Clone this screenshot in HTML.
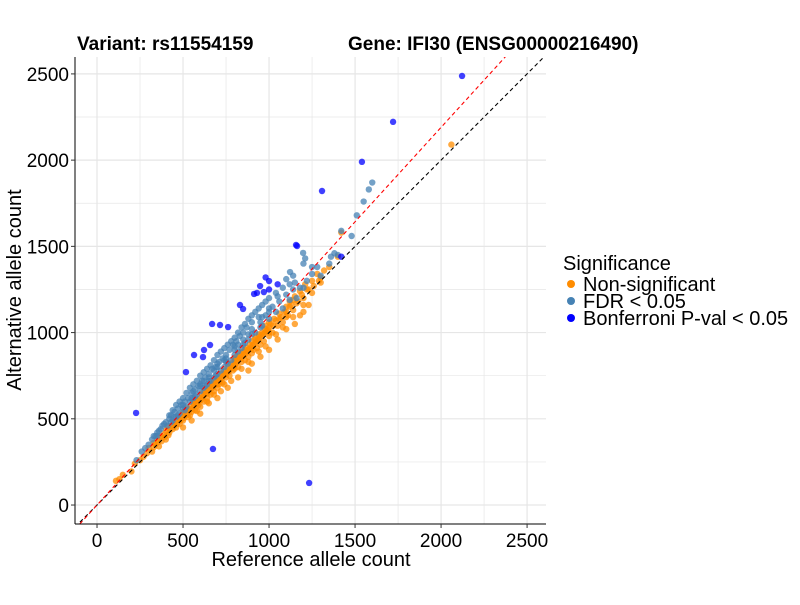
<!DOCTYPE html>
<html><head><meta charset="utf-8"><style>
body{margin:0;background:#fff;font-family:"Liberation Sans",sans-serif}
svg text{font-family:"Liberation Sans",sans-serif}
</style></head><body>
<svg id="c" width="800" height="600"></svg>
<script>
const xTicks=[0,500,1000,1500,2000,2500];
const yTicks=[0,500,1000,1500,2000,2500];
const nonSig=[[110,140],[130,150],[150,175],[200,195],[220,240],[250,260],[270,280],[290,300],[300,330],[320,310],[330,360],[340,350],[350,380],[360,340],[370,400],[380,390],[390,410],[400,380],[400,430],[410,450],[420,420],[430,460],[440,440],[450,480],[460,450],[470,500],[480,470],[490,520],[500,490],[500,540],[510,520],[520,560],[530,510],[540,570],[550,540],[560,590],[570,550],[580,610],[590,580],[600,620],[600,570],[610,640],[620,600],[630,660],[640,620],[650,690],[660,640],[670,700],[680,660],[690,720],[700,680],[700,740],[710,700],[720,760],[730,710],[740,780],[750,740],[760,800],[770,750],[780,820],[790,780],[800,840],[800,790],[810,860],[820,800],[830,880],[840,830],[850,890],[860,840],[870,910],[880,860],[890,930],[900,880],[900,950],[910,900],[920,970],[930,910],[940,990],[950,930],[960,1000],[970,950],[980,1040],[1000,980],[1000,1060],[1020,1000],[1030,1080],[1050,1040],[1060,1110],[1080,1060],[1100,1150],[1110,1100],[1120,1180],[1140,1130],[1150,1210],[1170,1180],[1180,1240],[1200,1200],[1210,1280],[1230,1250],[1250,1300],[1280,1340],[1300,1290],[1320,1360],[1400,1440],[1420,1580],[2060,2090],[650,590],[700,620],[760,680],[820,740],[880,780],[950,860],[1000,900],[1050,960],[1150,1050],[1230,1160],[600,530],[550,490],[500,450],[720,660],[900,820],[1100,1020],[1200,1120],[1180,1100],[560,600],[620,660],[680,720],[740,760],[800,850],[860,900],[920,960],[980,1020],[660,700],[720,740],[780,800],[840,870],[700,720],[760,770],[820,850],[880,900],[940,960],[1000,1030],[1060,1080],[1120,1150],[450,470],[480,500],[530,550],[580,590],[640,660],[1140,1190],[1100,1120],[1250,1230],[1300,1320],[1350,1380],
[330,335],[355,365],[375,370],[395,395],[415,405],[425,440],[445,455],[465,470],[485,490],[505,505],[515,540],[525,525],[545,555],[555,560],[565,575],[575,590],[585,600],[595,605],[605,610],[615,625],[625,640],[635,645],[645,650],[655,670],[665,675],[675,685],[685,700],[695,710],[705,715],[715,720],[725,735],[735,750],[745,760],[755,770],[765,775],[775,790],[785,795],[795,815],[805,820],[815,830],[825,845],[835,850],[845,860],[855,870],[865,880],[875,890],[885,905],[895,915],[905,925],[915,935],[925,945],[935,955],[945,975],[955,985],[965,990],[975,1000],[985,1010],[995,1015],[1010,1050],[1025,1040],[1040,1070],[1070,1090],[1090,1120],[1130,1160],[1160,1170],[1190,1220],[1220,1250],[1260,1270],[1290,1300],[540,520],[640,600],[740,700],[840,790],[940,890],[1040,990],[1140,1090],[580,545],[680,640],[780,720],[880,830],[980,920],[1080,1030],[1100,1090],[1200,1160],[1000,1000],[900,910],[800,810],[700,700]];
const fdr=[[230,260],[260,310],[280,330],[300,350],[320,380],[340,400],[350,420],[370,440],[380,460],[400,480],[410,460],[420,500],[430,520],[440,490],[450,540],[460,510],[470,560],[480,530],[490,580],[500,560],[510,600],[520,570],[530,620],[540,600],[550,650],[560,620],[570,670],[580,640],[590,690],[600,660],[610,720],[620,680],[630,740],[640,700],[650,760],[660,720],[670,790],[680,740],[690,800],[700,760],[710,830],[720,780],[730,850],[740,800],[750,870],[760,820],[770,900],[780,840],[790,930],[800,870],[810,950],[820,890],[830,980],[840,910],[850,1000],[860,940],[870,1030],[880,960],[900,1060],[920,1000],[940,1090],[960,1040],[980,1100],[1000,1080],[1020,1150],[1040,1120],[1060,1180],[1080,1140],[1100,1220],[1120,1190],[1140,1250],[1160,1200],[1180,1260],[1200,1260],[1220,1300],[1250,1340],[1280,1380],[1300,1330],[1350,1400],[1380,1460],[1400,1450],[1120,1280],[1200,1400],[1100,1310],[1140,1330],[1550,1760],[1580,1830],[1600,1870],[1420,1590],[1360,1440],[1510,1680],[1480,1560],[1198,1462],[1210,1430],[1122,1351],[600,700],[700,820],[800,920],[900,1020],[1000,1140],[650,740],[750,850],[850,960],[950,1060],
[330,400],[360,430],[390,470],[420,520],[440,550],[460,580],[480,600],[500,620],[520,650],[540,680],[560,700],[580,720],[600,750],[620,770],[640,790],[660,810],[680,840],[700,870],[720,890],[740,910],[760,930],[780,950],[800,970],[820,1000],[840,1030],[860,1050],[880,1080],[900,1100],[920,1120],[940,1140],[960,1160],[980,1180],[1000,1200],[1040,1230],[1080,1260],[550,620],[650,720],[750,830],[850,930],[950,1030],[450,510],[350,400],[500,580],[600,690],[700,800],[800,900],[900,990],[1050,1210],[1150,1290],[1250,1380],[1000,1120],[560,660],[620,720],[680,780],[740,840],[820,930],[880,990],[960,1090],[430,480],[470,520],[510,550],[570,630],[630,690],[690,750]];
const bonf=[[2122,2488],[1721,2222],[1540,1990],[1308,1821],[1157,1508],[1163,1502],[227,534],[674,325],[1233,128],[948,1270],[1000,1299],[913,1224],[930,1230],[970,1235],[831,1160],[849,1137],[669,1050],[715,1044],[762,1032],[657,928],[622,899],[564,870],[517,771],[616,858],[1000,1250],[1050,1280],[980,1320],[1420,1440]];
const X0=-128,X1=2610,Y0=-110,Y1=2598,L=75,R=546,T=57,B=524;
const sx=v=>L+(v-X0)/(X1-X0)*(R-L), sy=v=>B-(v-Y0)/(Y1-Y0)*(B-T);
const svg=document.getElementById('c');const NS='http://www.w3.org/2000/svg';
function mk(t,a,p){const e=document.createElementNS(NS,t);for(const k in a)e.setAttribute(k,a[k]);(p||svg).appendChild(e);return e;}
const g=mk('g',{});


for(let v=-0;v<=2500;v+=250){mk('line',{x1:sx(v),x2:sx(v),y1:T,y2:B,stroke:'#e6e6e6','stroke-width':v%500?0.7:1.2},g);mk('line',{x1:L,x2:R,y1:sy(v),y2:sy(v),stroke:'#e6e6e6','stroke-width':v%500?0.7:1.2},g);}
const clip=mk('clipPath',{id:'cp'});mk('rect',{x:L,y:T,width:R-L,height:B-T},clip);
const ln=mk('g',{'clip-path':'url(#cp)'});
function pts(arr,col,name){const gg=mk('g',{'clip-path':'url(#cp)'});


arr.forEach(p=>{const c=mk('circle',{cx:sx(p[0]),cy:sy(p[1]),r:3.2,fill:col,'fill-opacity':0.75},gg);

});}
pts(nonSig,'#ff8c00','non-significant-points');pts(fdr,'#4682b4','fdr-points');pts(bonf,'#0000ff','bonferroni-points');
const ln2=mk('g',{'clip-path':'url(#cp)'});
const l1=mk('line',{x1:sx(X0),y1:sy(X0),x2:sx(X1),y2:sy(X1),stroke:'#000','stroke-dasharray':'4,3','stroke-width':1.1},ln2);


const l2=mk('line',{x1:sx(X0),y1:sy(X0*1.095),x2:sx(X1),y2:sy(X1*1.095),stroke:'#f00','stroke-dasharray':'4,3','stroke-width':1.1},ln2);


mk('line',{x1:L,x2:L,y1:T,y2:B,stroke:'#000','stroke-width':1});
mk('line',{x1:L,x2:R,y1:B,y2:B,stroke:'#000','stroke-width':1});
xTicks.forEach(v=>{mk('line',{x1:sx(v),x2:sx(v),y1:B,y2:B+4,stroke:'#333'});const t=mk('text',{x:sx(v),y:B+23,'font-size':19,'text-anchor':'middle',fill:'#000'});t.textContent=v;

});
yTicks.forEach(v=>{mk('line',{x1:L-4,x2:L,y1:sy(v),y2:sy(v),stroke:'#333'});const t=mk('text',{x:L-6,y:sy(v)+7,'font-size':19,'text-anchor':'end',fill:'#000'});t.textContent=v;

});
</script>
<svg width="800" height="600" style="position:absolute;left:0;top:0">
<text x="77" y="50" font-size="19" font-weight="bold">Variant: rs11554159</text>
<text x="348" y="50" font-size="19" font-weight="bold">Gene: IFI30 (ENSG00000216490)</text>
<text x="311" y="566" font-size="20" text-anchor="middle">Reference allele count</text>
<text transform="translate(21,290) rotate(-90)" font-size="20" text-anchor="middle">Alternative allele count</text>
<g font-size="20">
<text x="563" y="270">Significance</text>
<circle cx="571" cy="284" r="4" fill="#ff8c00"/><text x="583" y="291">Non-significant</text>
<circle cx="571" cy="301" r="4" fill="#4682b4"/><text x="583" y="308">FDR &lt; 0.05</text>
<circle cx="571" cy="318" r="4" fill="#0000ff"/><text x="583" y="325">Bonferroni P-val &lt; 0.05</text>
</g>
</svg>
</body></html>
